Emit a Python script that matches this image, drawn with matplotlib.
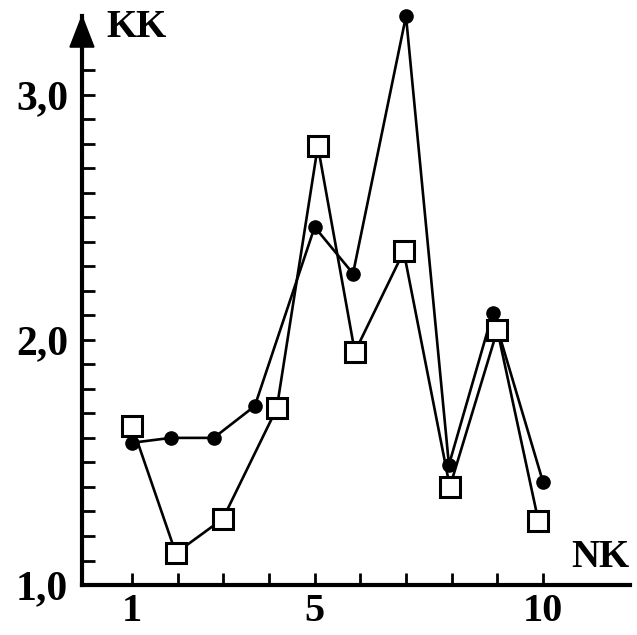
import matplotlib
matplotlib.use("Agg")
import matplotlib.pyplot as plt
from matplotlib.patches import Polygon
import numpy as np

# series
nk_dots = [1.0, 1.85, 2.79, 3.69, 5.0, 5.84, 7.0, 7.94, 8.9, 10.0]
kk_dots = [1.58, 1.60, 1.60, 1.73, 2.46, 2.27, 3.32, 1.49, 2.11, 1.42]
nk_squares = [1.0, 1.96, 2.99, 4.17, 5.07, 5.88, 6.95, 7.96, 9.0, 9.9]
kk_squares = [1.65, 1.13, 1.27, 1.72, 2.79, 1.95, 2.36, 1.40, 2.04, 1.26]

x_ticks = list(range(1, 11))
x_labels = ["1", "", "", "", "5", "", "", "", "", "10"]
y_ticks = [round(1.1 + 0.1 * i, 1) for i in range(21)]
y_labels = {1.0: "1,0", 2.0: "2,0", 3.0: "3,0"}

FONT = "Liberation Serif"

fig = plt.figure(figsize=(6.37, 6.35), dpi=100, facecolor="white")
ax = fig.add_axes([0.1287, 0.0787, 0.860, 0.896])
ax.set_xlim(-0.094, 11.9)
ax.set_ylim(1.0, 3.32)

ax.plot(nk_dots, kk_dots, color="black", lw=1.9, marker="o", markersize=9.5,
        markerfacecolor="black", markeredgecolor="black", clip_on=False, zorder=3)
ax.plot(nk_squares, kk_squares, color="black", lw=1.9, marker="s", markersize=14,
        markerfacecolor="white", markeredgecolor="black", markeredgewidth=2.2,
        clip_on=False, zorder=4)

ax.spines[["top", "right"]].set_visible(False)
for side in ["left", "bottom"]:
    ax.spines[side].set_linewidth(3)
    ax.spines[side].set_color("black")

ax.set_xticks(x_ticks)
ax.set_xticklabels(x_labels, fontfamily=FONT, fontweight="bold", fontsize=29)
all_y = [1.0] + y_ticks
ax.set_yticks(all_y)
ax.set_yticklabels([y_labels.get(v, "") for v in all_y], fontfamily=FONT,
                   fontweight="bold", fontsize=30)
ax.tick_params(axis="both", direction="in", length=9, width=2, color="black")
ax.tick_params(axis="y", pad=10)
ax.tick_params(axis="x", pad=6)

# arrow head at the top of the y axis
head = Polygon([[-0.0219, 1 - 0.0545], [0.0219, 1 - 0.0545], [0, 1.0]],
               closed=True, facecolor="black", edgecolor="black",
               transform=ax.transAxes, clip_on=False, zorder=5)
ax.add_patch(head)

ax.text(0.045, 1.012, "KK", transform=ax.transAxes, ha="left", va="top",
        fontfamily=FONT, fontweight="bold", fontsize=28)
ax.text(1.0, 0.032, "NK", transform=ax.transAxes, ha="right", va="baseline",
        fontfamily=FONT, fontweight="bold", fontsize=28)

fig.savefig("out.png", dpi=100, facecolor="white")
